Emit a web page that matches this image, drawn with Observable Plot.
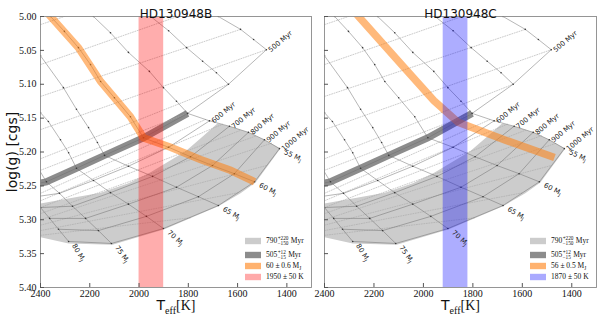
<!DOCTYPE html>
<html><head><meta charset="utf-8">
<script src="https://cdn.jsdelivr.net/npm/d3@7"></script>
<script src="https://cdn.jsdelivr.net/npm/@observablehq/plot@0.6"></script>
<style>
body{margin:0;background:#fff;}
#wrap{position:relative;width:598px;height:316px;overflow:hidden;background:#fff;}
.pane{position:absolute;top:0;}
</style></head><body><div id="wrap"></div>
<script>
// ---------------- data (Teff [K], log g [cgs]) ----------------
const xTicks = [2400, 2200, 2000, 1800, 1600, 1400];
const yTicks = [5.00, 5.05, 5.10, 5.15, 5.20, 5.25, 5.30, 5.35, 5.40];

// young part of each mass track (45 and 50 MJ end on the 500 Myr isochrone)
const youngTracks = {
  45: [[1730,4.988],[1678,5.000],[1588,5.019],[1535,5.034],[1483,5.049]],
  50: [[1994,4.988],[1953,5.000],[1880,5.021],[1807,5.046],[1742,5.066],[1686,5.083],[1637,5.100]],
  55: [[2217,4.988],[2185,5.000],[2116,5.024],[2043,5.053],[1958,5.081],[1901,5.105],[1848,5.125]],
  60: [[2388,4.988],[2359,5.000],[2303,5.022],[2246,5.046],[2197,5.071],[2156,5.096],[2100,5.120],[2035,5.148]],
  65: [[2465,5.021],[2400,5.058],[2307,5.105],[2254,5.137],[2205,5.164],[2169,5.186]],
  70: [[2441,5.121],[2400,5.142],[2368,5.155],[2319,5.182],[2286,5.201]],
  75: [[2457,5.196],[2416,5.220]],
  80: [[2514,5.227]]
};

// grid nodes 500..1000 Myr for the 55..80 MJ tracks
const ages = [500, 600, 700, 800, 900, 1000];
const masses = [55, 60, 65, 70, 75, 80];
const nodeTeff = {
  55: [1803,1714,1633,1556,1491,1430],
  60: [1982,1880,1791,1702,1613,1531],
  65: [2140,2043,1945,1848,1759,1678],
  70: [2254,2185,2116,2043,1970,1901],
  75: [2376,2323,2270,2217,2165,2112],
  80: [2473,2437,2400,2363,2327,2286]
};
const nodeLogg = {
  55: [5.143,5.154,5.162,5.171,5.182,5.195],
  60: [5.179,5.193,5.207,5.220,5.232,5.244],
  65: [5.205,5.221,5.236,5.252,5.266,5.279],
  70: [5.224,5.242,5.260,5.277,5.295,5.313],
  75: [5.244,5.261,5.280,5.298,5.316,5.335],
  80: [5.251,5.267,5.282,5.298,5.314,5.332]
};
// low-mass end of the 500 Myr isochrone (45, 50 MJ)
const iso500LowMass = [[1483,5.049],[1637,5.100]];

// faint dotted grid lines
const dottedLines = [
  [[2400,5.012],[2303,5.000]],
  [[2400,5.071],[1844,5.000]],
  [[2400,5.118],[1588,5.019]],
  [[2400,5.167],[1483,5.049]],
  [[2400,5.210],[1637,5.100]],
  [[2400,5.227],[1803,5.143]],
  [[2400,5.261],[1730,5.152]],
  [[2400,5.272],[1661,5.159]],
  [[2400,5.282],[1588,5.168]],
  [[2400,5.291],[1523,5.176]],
  [[2400,5.300],[1462,5.187]],
  [[2400,5.308],[1483,5.220]],
  [[2400,5.316],[1596,5.260]],
  [[2400,5.323],[1791,5.297]]
];

// age constraint 790 (+220 -150) Myr region
const ageBand790 = [[1682,5.158],[1633,5.162],[1556,5.171],[1491,5.182],[1426,5.195],[1527,5.245],[1588,5.261],
  [1678,5.280],[1897,5.314],[2108,5.337],[2286,5.335],[2400,5.326],[2441,5.322],[2441,5.277],[2400,5.276],
  [2156,5.260],[2043,5.246],[1953,5.230],[1811,5.199],[1751,5.180]];
// age constraint 505 (+12 -15) Myr
const ageBand505 = [[1803,5.143],[1982,5.179],[2140,5.205],[2254,5.224],[2376,5.244],[2473,5.251]];

// mass constraints
const massBandB = [[2388,4.988],[2359,5.000],[2246,5.046],[2156,5.096],[2100,5.120],[2035,5.148],[1982,5.179],
  [1872,5.193],[1751,5.211],[1629,5.227],[1531,5.244]];            // 60 +- 0.6 MJ
const massBandC = [[2290,4.988],[2262,5.000],[2079,5.075],[1958,5.124],[1860,5.156],[1665,5.183],[1470,5.208]]; // 56 +- 0.5 MJ

// Teff constraints
const teffB = [1900, 2000];  // 1950 +- 50 K
const teffC = [1820, 1920];  // 1870 +- 50 K

// ---------------- tables ----------------
const toRows = (pts, extra) => pts.map(([t, g]) => ({teff: t, logg: g, ...extra}));
const trackRows = [];
for (const m of [45, 50, 55, 60, 65, 70, 75, 80]) {
  trackRows.push(...toRows(youngTracks[m], {m}));
  if (nodeTeff[m]) ages.forEach((a, i) => trackRows.push({m, teff: nodeTeff[m][i], logg: nodeLogg[m][i]}));
}
const isoRows = [];
ages.forEach((a, i) => {
  if (a === 500) [...iso500LowMass].forEach(([t, g]) => isoRows.push({age: a, teff: t, logg: g}));
  masses.forEach(m => isoRows.push({age: a, teff: nodeTeff[m][i], logg: nodeLogg[m][i]}));
});
const dottedRows = dottedLines.flatMap((seg, id) => toRows(seg, {id}));
const ageLabelRows = ages.map((a, i) => a === 500
  ? {teff: iso500LowMass[0][0], logg: iso500LowMass[0][1], label: `${a} Myr`}
  : {teff: nodeTeff[55][i], logg: nodeLogg[55][i], label: `${a} Myr`});
const massAngle = {55: 25, 60: 27, 65: 30, 70: 42, 75: 54, 80: 58};
const massLabelRows = masses.map(m => ({teff: nodeTeff[m][5], logg: nodeLogg[m][5], label: `${m} M_J`, rot: massAngle[m]}));

const XY = {x: "teff", y: "logg"};

function richText(g, x, y, parts, size) {
  let cx = x;
  for (const p of parts) {
    if (p.text !== undefined) {
      const t = g.append("text").attr("x", cx).attr("y", y).attr("dy", "0.32em").attr("font-size", size).text(p.text);
      cx += t.node().getComputedTextLength();
    } else if (p.sup !== undefined) {
      const s = size * 0.7;
      const a = g.append("text").attr("x", cx + 0.4).attr("y", y - 2.7).attr("dy", "0.32em").attr("font-size", s).text(p.sup);
      const b = g.append("text").attr("x", cx + 0.4).attr("y", y + 2.7).attr("dy", "0.32em").attr("font-size", s).text(p.sub);
      cx += 0.8 + Math.max(a.node().getComputedTextLength(), b.node().getComputedTextLength());
    } else if (p.sub !== undefined) {
      const b = g.append("text").attr("x", cx).attr("y", y + 2).attr("dy", "0.32em").attr("font-size", size * 0.7).text(p.sub);
      cx += b.node().getComputedTextLength();
    }
  }
}

function makePanel(cfg) {
  const holder = document.createElement("div");
  holder.className = "pane";
  holder.style.left = cfg.left + "px";
  holder.style.width = cfg.width + "px";
  document.getElementById("wrap").appendChild(holder);
  const marks = [
    Plot.line(ageBand790.map(([t, g]) => ({teff: t, logg: g})), {...XY, fill: "#cccccc", stroke: "none", clip: true}),
    Plot.line(toRows(ageBand505), {...XY, stroke: "#000", strokeOpacity: 0.45, strokeWidth: 7, strokeLinecap: "butt", strokeLinejoin: "miter", strokeMiterlimit: 4, clip: true}),
    Plot.line(dottedRows, {...XY, z: "id", stroke: "#a8a8a8", strokeWidth: 0.6, strokeDasharray: "1,1.5", clip: true}),
    Plot.line(isoRows, {...XY, z: "age", stroke: "#6e6e6e", strokeWidth: 0.5, clip: true}),
    Plot.line(trackRows, {...XY, z: "m", stroke: "#6e6e6e", strokeWidth: 0.5, clip: true}),
    Plot.dot(trackRows, {...XY, r: 0.8, fill: "#3a3a3a", clip: true}),
    Plot.line(toRows(cfg.massBand), {...XY, stroke: "#ff7f0e", strokeOpacity: 0.55, strokeWidth: 7.5, strokeLinecap: "butt", strokeLinejoin: "miter", strokeMiterlimit: 4, clip: true}),
    Plot.rect([cfg.teff], {x1: d => d[0], x2: d => d[1], fill: cfg.teffColor, fillOpacity: 0.32}),
    Plot.frame({stroke: "#8a8a8a", strokeWidth: 0.9}),
    Plot.axisX({ticks: xTicks, tickSize: -4, tickPadding: 6, tickFormat: d => String(d), label: null, stroke: "#555"}),
    Plot.axisY({ticks: yTicks, tickSize: -4, tickPadding: 8, tickFormat: cfg.showY ? (d => d.toFixed(2)) : (() => ""), label: null, stroke: "#555"}),
    Plot.text(ageLabelRows, {...XY, text: "label", rotate: -40, textAnchor: "start", dx: 3, dy: 1, fontSize: 7, fontFamily: "DejaVu Sans", fill: "#222"}),
    Plot.text(massLabelRows, {...XY, text: "label", rotate: "rot", textAnchor: "start", dx: 5, dy: 3, fontSize: 7, fontFamily: "DejaVu Sans", fill: "#222"}),
    Plot.text([cfg.title], {frameAnchor: "top", textAnchor: "middle", dy: -7, text: d => d, fontSize: 12, fontFamily: "DejaVu Sans", fill: "#111"}),
    Plot.text(["T_eff[K]"], {frameAnchor: "bottom", textAnchor: "middle", dy: 22, text: d => d, fontSize: 14, fontFamily: "DejaVu Sans", fill: "#111"})
  ];
  if (cfg.showY) marks.push(Plot.text(["log(g) [cgs]"], {frameAnchor: "left", textAnchor: "middle", dx: -28, rotate: -90, text: d => d, fontSize: 14, fontFamily: "DejaVu Sans", fill: "#111"}));
  const svg = Plot.plot({
    width: cfg.width, height: 316,
    marginLeft: cfg.marginLeft, marginRight: cfg.marginRight, marginTop: 16, marginBottom: 29,
    style: {fontFamily: "'Liberation Serif', serif", fontSize: "10px", background: "white", color: "#111"},
    x: {domain: [2400, 1300]},
    y: {domain: [5.0, 5.4], reverse: true},
    marks
  });
  holder.appendChild(svg);
  // subscripts
  d3.select(svg).selectAll("text").each(function () {
    const s = this.textContent;
    const el = d3.select(this);
    if (s.endsWith("M_J")) {
      el.text(s.slice(0, -2));
      el.append("tspan").attr("dy", "0.3em").attr("font-size", "0.72em").text("J");
    } else if (s === "T_eff[K]") {
      el.text("T");
      el.append("tspan").attr("dy", 4).attr("font-size", 10).attr("font-family", "'Liberation Serif', serif").text("eff");
      el.append("tspan").attr("dy", -4).attr("font-family", "'Liberation Serif', serif").attr("font-size", 14).text("[K]");
    }
  });
  // legend
  const x0 = cfg.width - cfg.marginRight - 66;
  const g = d3.select(svg).append("g").attr("font-family", "'Liberation Serif', serif").attr("text-anchor", "start").attr("fill", "#111");
  const rowsY = [241, 255, 266, 277];
  cfg.legend.forEach((it, i) => {
    g.append("rect").attr("x", x0).attr("y", rowsY[i] - 3.2).attr("width", 16).attr("height", 6.4).attr("fill", it.color);
    richText(g, x0 + 21, rowsY[i], it.parts, 7.5);
  });
}

const commonLegend = [
  {color: "#cccccc", parts: [{text: "790"}, {sup: "+220", sub: "\u2212150"}, {text: " Myr"}]},
  {color: "#8c8c8c", parts: [{text: "505"}, {sup: "+12", sub: "\u221215"}, {text: " Myr"}]}
];

makePanel({
  left: 0, width: 312, marginLeft: 40, marginRight: 1, showY: true,
  title: "HD130948B", massBand: massBandB, teff: teffB, teffColor: "#ff0000",
  legend: [...commonLegend,
    {color: "#ffb26f", parts: [{text: "60 \u00b1 0.6 M"}, {sub: "J"}]},
    {color: "#ffaaaa", parts: [{text: "1950 \u00b1 50 K"}]}]
});
makePanel({
  left: 312, width: 286, marginLeft: 12, marginRight: 2, showY: false,
  title: "HD130948C", massBand: massBandC, teff: teffC, teffColor: "#0000ff",
  legend: [...commonLegend,
    {color: "#ffb26f", parts: [{text: "56 \u00b1 0.5 M"}, {sub: "J"}]},
    {color: "#aaaaff", parts: [{text: "1870 \u00b1 50 K"}]}]
});
</script></body></html>
